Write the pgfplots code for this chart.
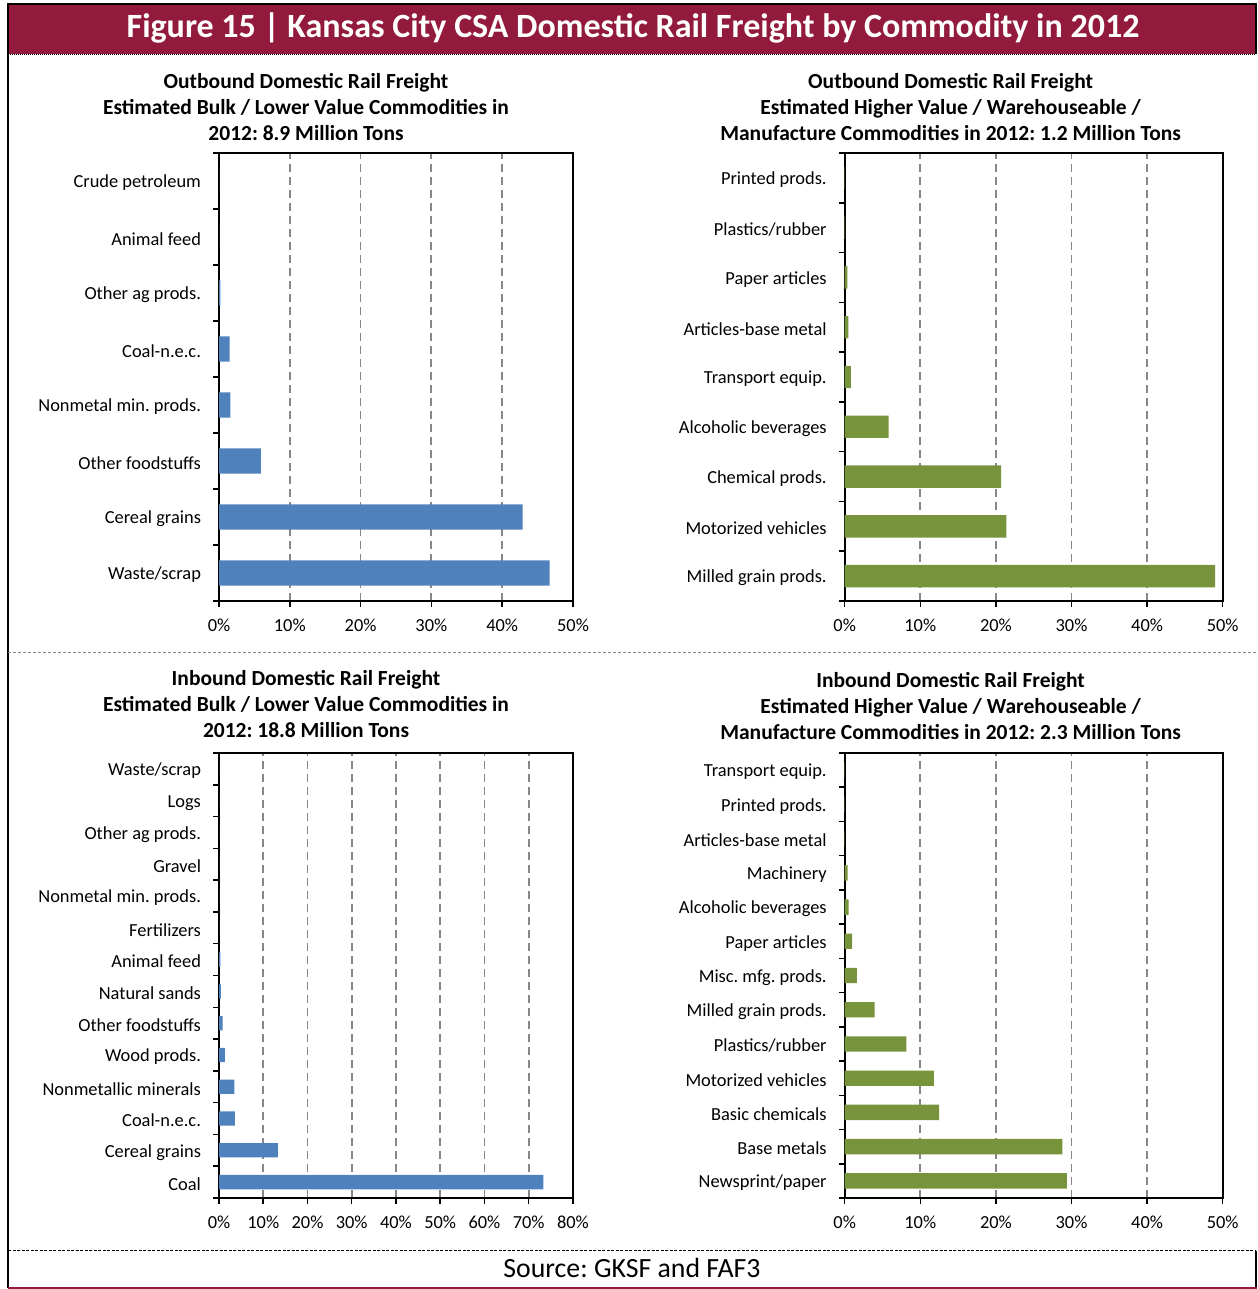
\documentclass[border=0pt]{standalone}
\usepackage{fontspec}
\setmainfont{Carlito}
\usepackage{pgfplots}
\pgfplotsset{compat=1.18}
\frenchspacing

\definecolor{headred}{HTML}{921A3C}
\definecolor{barblue}{HTML}{4F81BD}
\definecolor{bargreen}{HTML}{77933C}
\definecolor{gridgray}{HTML}{878787}

\pgfplotsset{
  panel/.style={
    scale only axis,
    xbar, bar width=0.45,
    xmin=0,
    axis line style={black, line width=0.85pt},
    tick align=outside,
    xtick pos=left, ytick pos=left,
    major tick length=3pt,
    tick style={black, line width=0.75pt},
    y tick label as interval,
    xmajorgrids,
    major x grid style={gridgray, line width=0.9pt, dash pattern=on 4pt off 2.5pt},
    tick label style={font=\fontsize{9.2}{11}\selectfont, text=black},
    /pgf/number format/assume math mode=true,
    xticklabel={\pgfmathprintnumber{\tick}\%},
    xticklabel style={yshift=-2.5pt},
    yticklabel style={xshift=-2.5pt, yshift=-1pt},
  },
}
\tikzset{ptitle/.style={font=\fontsize{10.75}{13}\selectfont\bfseries, anchor=base}}

\begin{document}
\begin{tikzpicture}
\useasboundingbox (0,0) rectangle (628.5pt,-644.5pt);

% heading band
\fill[headred] (4.15pt,-2.5pt) rectangle (628pt,-27.2pt);
\draw[black, line width=1.1pt] (4.15pt,-27.2pt) -- (4.15pt,-2.2pt) -- (628pt,-2.2pt) -- (628pt,-27.2pt);
\node[text=white, font=\fontsize{17}{20}\selectfont\bfseries] at (316.5pt,-14pt)
  {Figure 15 | Kansas City CSA Domestic Rail Freight by Commodity in 2012};
\draw[black, line width=0.6pt, dash pattern=on 0.5pt off 0.5pt] (4.15pt,-27.4pt) -- (628pt,-27.4pt);

% frame lines
\draw[black, line width=1pt] (4.15pt,-2.2pt) -- (4.15pt,-644pt);
\draw[gridgray, line width=0.4pt, dash pattern=on 1.5pt off 1pt] (4.15pt,-326.3pt) -- (628.5pt,-326.3pt);
\draw[black, line width=0.6pt, dash pattern=on 1.5pt off 0.75pt] (4.15pt,-625.3pt) -- (628pt,-625.3pt);
\draw[black, line width=0.8pt] (628pt,-625.3pt) -- (628pt,-644pt);
\draw[headred, line width=0.8pt] (4.15pt,-644pt) -- (628.5pt,-644pt);
\node[font=\fontsize{13.9}{16}\selectfont] at (316pt,-634pt) {Source: GKSF and FAF3};

% panel headings
\node[ptitle] at (153pt,-44.2pt) {Outbound Domestic Rail Freight};
\node[ptitle] at (153pt,-57.2pt) {Estimated Bulk / Lower Value Commodities in};
\node[ptitle] at (153pt,-70.2pt) {2012: 8.9 Million Tons};

\node[ptitle] at (475.3pt,-44.2pt) {Outbound Domestic Rail Freight};
\node[ptitle] at (475.3pt,-57.2pt) {Estimated Higher Value / Warehouseable /};
\node[ptitle] at (475.3pt,-70.2pt) {Manufacture Commodities in 2012: 1.2 Million Tons};

\node[ptitle] at (153pt,-342.7pt) {Inbound Domestic Rail Freight};
\node[ptitle] at (153pt,-355.7pt) {Estimated Bulk / Lower Value Commodities in};
\node[ptitle] at (153pt,-368.7pt) {2012: 18.8 Million Tons};

\node[ptitle] at (475.3pt,-343.7pt) {Inbound Domestic Rail Freight};
\node[ptitle] at (475.3pt,-356.7pt) {Estimated Higher Value / Warehouseable /};
\node[ptitle] at (475.3pt,-369.7pt) {Manufacture Commodities in 2012: 2.3 Million Tons};

% outbound, bulk commodities
\begin{axis}[panel, at={(109.5pt,-300.5pt)}, anchor=south west,
  width=177pt, height=224pt,
  xmax=50, xtick={0,10,...,50},
  ymin=-0.5, ymax=7.5, ytick={-0.5,0.5,...,7.5},
  yticklabels={Waste/scrap, Cereal grains, Other foodstuffs, Nonmetal min. prods.,
    Coal-n.e.c., Other ag prods., Animal feed, Crude petroleum}]
\addplot[fill=barblue, draw=none] coordinates {
  (46.7,0) (42.9,1) (5.9,2) (1.6,3) (1.5,4) (0.2,5) (0.02,6) (0.01,7)};
\end{axis}

% outbound, higher value commodities
\begin{axis}[panel, at={(422.35pt,-300.5pt)}, anchor=south west,
  width=189pt, height=224pt,
  xmax=50, xtick={0,10,...,50},
  ymin=-0.5, ymax=8.5, ytick={-0.5,0.5,...,8.5},
  yticklabels={Milled grain prods., Motorized vehicles, Chemical prods., Alcoholic beverages,
    Transport equip., Articles-base metal, Paper articles, Plastics/rubber, Printed prods.}]
\addplot[fill=bargreen, draw=none] coordinates {
  (49.0,0) (21.4,1) (20.7,2) (5.8,3) (0.8,4) (0.5,5) (0.35,6) (0.05,7) (0.02,8)};
\end{axis}

% inbound, bulk commodities
\begin{axis}[panel, at={(109.5pt,-599pt)}, anchor=south west,
  width=177pt, height=222.5pt,
  xmax=80, xtick={0,10,...,80},
  ymin=-0.5, ymax=13.5, ytick={-0.5,0.5,...,13.5},
  yticklabels={Coal, Cereal grains, Coal-n.e.c., Nonmetallic minerals, Wood prods.,
    Other foodstuffs, Natural sands, Animal feed, Fertilizers, Nonmetal min. prods.,
    Gravel, Other ag prods., Logs, Waste/scrap}]
\addplot[fill=barblue, draw=none] coordinates {
  (73.3,0) (13.3,1) (3.6,2) (3.5,3) (1.3,4) (0.8,5) (0.45,6) (0.3,7)
  (0.05,8) (0.02,9) (0.01,10) (0.01,11) (0.01,12) (0.01,13)};
\end{axis}

% inbound, higher value commodities
\begin{axis}[panel, at={(422.35pt,-599pt)}, anchor=south west,
  width=189pt, height=222.5pt,
  xmax=50, xtick={0,10,...,50},
  ymin=-0.5, ymax=12.5, ytick={-0.5,0.5,...,12.5},
  yticklabels={Newsprint/paper, Base metals, Basic chemicals, Motorized vehicles,
    Plastics/rubber, Milled grain prods., Misc. mfg. prods., Paper articles,
    Alcoholic beverages, Machinery, Articles-base metal, Printed prods., Transport equip.}]
\addplot[fill=bargreen, draw=none] coordinates {
  (29.4,0) (28.8,1) (12.5,2) (11.8,3) (8.15,4) (3.97,5) (1.6,6) (0.97,7)
  (0.53,8) (0.4,9) (0.02,10) (0.01,11) (0.01,12)};
\end{axis}
\end{tikzpicture}
\end{document}
